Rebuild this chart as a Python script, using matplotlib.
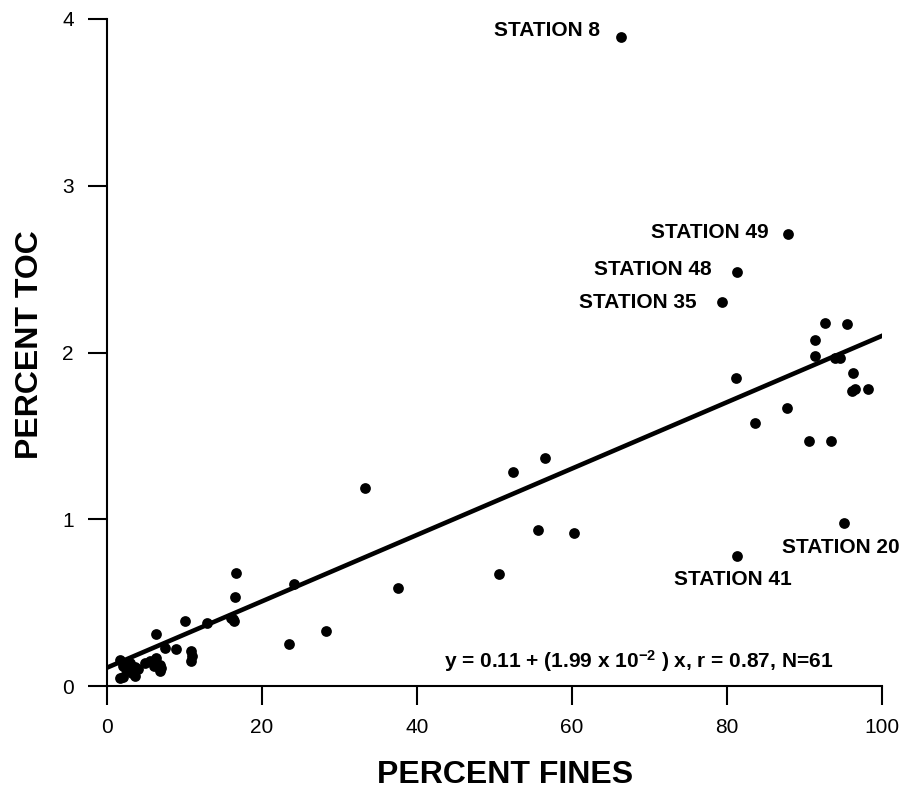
import matplotlib
matplotlib.use("Agg")
import matplotlib.pyplot as plt
import numpy as np

plt.rcParams['font.family'] = ['Liberation Sans', 'DejaVu Sans']
plt.rcParams['mathtext.fontset'] = 'custom'
plt.rcParams['mathtext.rm'] = 'Liberation Sans:bold'
plt.rcParams['mathtext.bf'] = 'Liberation Sans:bold'
plt.rcParams['mathtext.it'] = 'Liberation Sans:bold'

# Data: percent fines vs percent TOC
percent_fines = [
    16.6, 16.5, 16.4, 16.0, 12.9, 10.1, 6.3, 8.9, 10.8, 10.9,
    7.5, 6.3, 6.8, 6.9, 4.9, 3.6, 3.6, 2.1, 1.7, 1.7,
    3.0, 2.5, 4.0, 5.5, 6.0, 3.2, 2.0, 16.3, 11.0, 7.0,
    23.5, 24.1, 28.3, 33.3, 37.5, 50.6, 52.4, 55.6, 56.5, 60.3,
    66.3, 79.3, 81.3, 87.9, 81.3, 95.1,
    92.6, 95.5, 91.4, 91.4, 93.9, 94.6, 81.2, 96.3, 96.1, 96.5,
    98.2, 87.7, 83.6, 90.6, 93.4,
]
percent_toc = [
    0.68, 0.535, 0.39, 0.41, 0.376, 0.39, 0.31, 0.22, 0.21, 0.15,
    0.23, 0.17, 0.126, 0.09, 0.14, 0.116, 0.06, 0.056, 0.05, 0.156,
    0.14, 0.10, 0.10, 0.15, 0.12, 0.08, 0.12, 0.40, 0.18, 0.11,
    0.25, 0.61, 0.33, 1.19, 0.59, 0.67, 1.285, 0.935, 1.37, 0.916,
    3.89, 2.30, 2.485, 2.71, 0.78, 0.976,
    2.175, 2.17, 2.075, 1.98, 1.97, 1.97, 1.85, 1.875, 1.77, 1.78,
    1.78, 1.67, 1.575, 1.47, 1.47,
]

# Regression
intercept = 0.11
slope = 1.99e-2
fit_x = [0, 100]

# Station labels: (name, x, y)
station_names = ["STATION 8", "STATION 49", "STATION 48", "STATION 35", "STATION 20", "STATION 41"]
station_x = [66.3, 87.9, 81.3, 79.3, 95.1, 81.3]
station_y = [3.89, 2.71, 2.485, 2.30, 0.976, 0.78]

x_ticks = [0, 20, 40, 60, 80, 100]
y_ticks = [0, 1, 2, 3, 4]

fig = plt.figure(figsize=(9.09, 7.94), dpi=100)
ax = fig.add_axes([107/909, 1 - 686/794, (882 - 107)/909, (686 - 19)/794])

ax.scatter(percent_fines, percent_toc, s=60, color='black', zorder=3, linewidths=0)
fx = np.array(fit_x, dtype=float)
ax.plot(fx, intercept + slope * fx, color='black', linewidth=3.3, zorder=2)

ax.set_xlim(0, 100)
ax.set_ylim(0, 4)
ax.set_xticks(x_ticks)
ax.set_yticks(y_ticks)
ax.spines['top'].set_visible(False)
ax.spines['right'].set_visible(False)
for s in ['left', 'bottom']:
    ax.spines[s].set_linewidth(1.5)
ax.tick_params(axis='both', direction='out', length=14, width=1.5, labelsize=15)
ax.tick_params(axis='y', pad=10)
ax.tick_params(axis='x', pad=9)

offsets = {
    "STATION 8": (-21, 7, 'right', 'center'),
    "STATION 49": (-20, 2, 'right', 'center'),
    "STATION 48": (-25, 2, 'right', 'center'),
    "STATION 35": (-25, 0, 'right', 'center'),
    "STATION 20": (-3, -24, 'center', 'center'),
    "STATION 41": (-4, -24, 'center', 'center'),
}
for name, sx, sy in zip(station_names, station_x, station_y):
    dx, dy, ha, va = offsets[name]
    ax.annotate(name, (sx, sy), xytext=(dx, dy), textcoords='offset pixels',
                ha=ha, va=va, fontsize=15, fontweight='bold')

ax.text(0.937, 0.0375, r"y = 0.11 + (1.99 x 10$^{-2}$ ) x, r = 0.87, N=61",
        transform=ax.transAxes, ha='right', va='center', fontsize=15, fontweight='bold')

fig.text(505/909, 1 - 775/794, "PERCENT FINES", ha='center', va='center',
         fontsize=23, fontweight='bold')
fig.text(30/909, 1 - 345/794, "PERCENT TOC", ha='center', va='center',
         fontsize=23, fontweight='bold', rotation=90)

fig.savefig("out.png", dpi=100)
